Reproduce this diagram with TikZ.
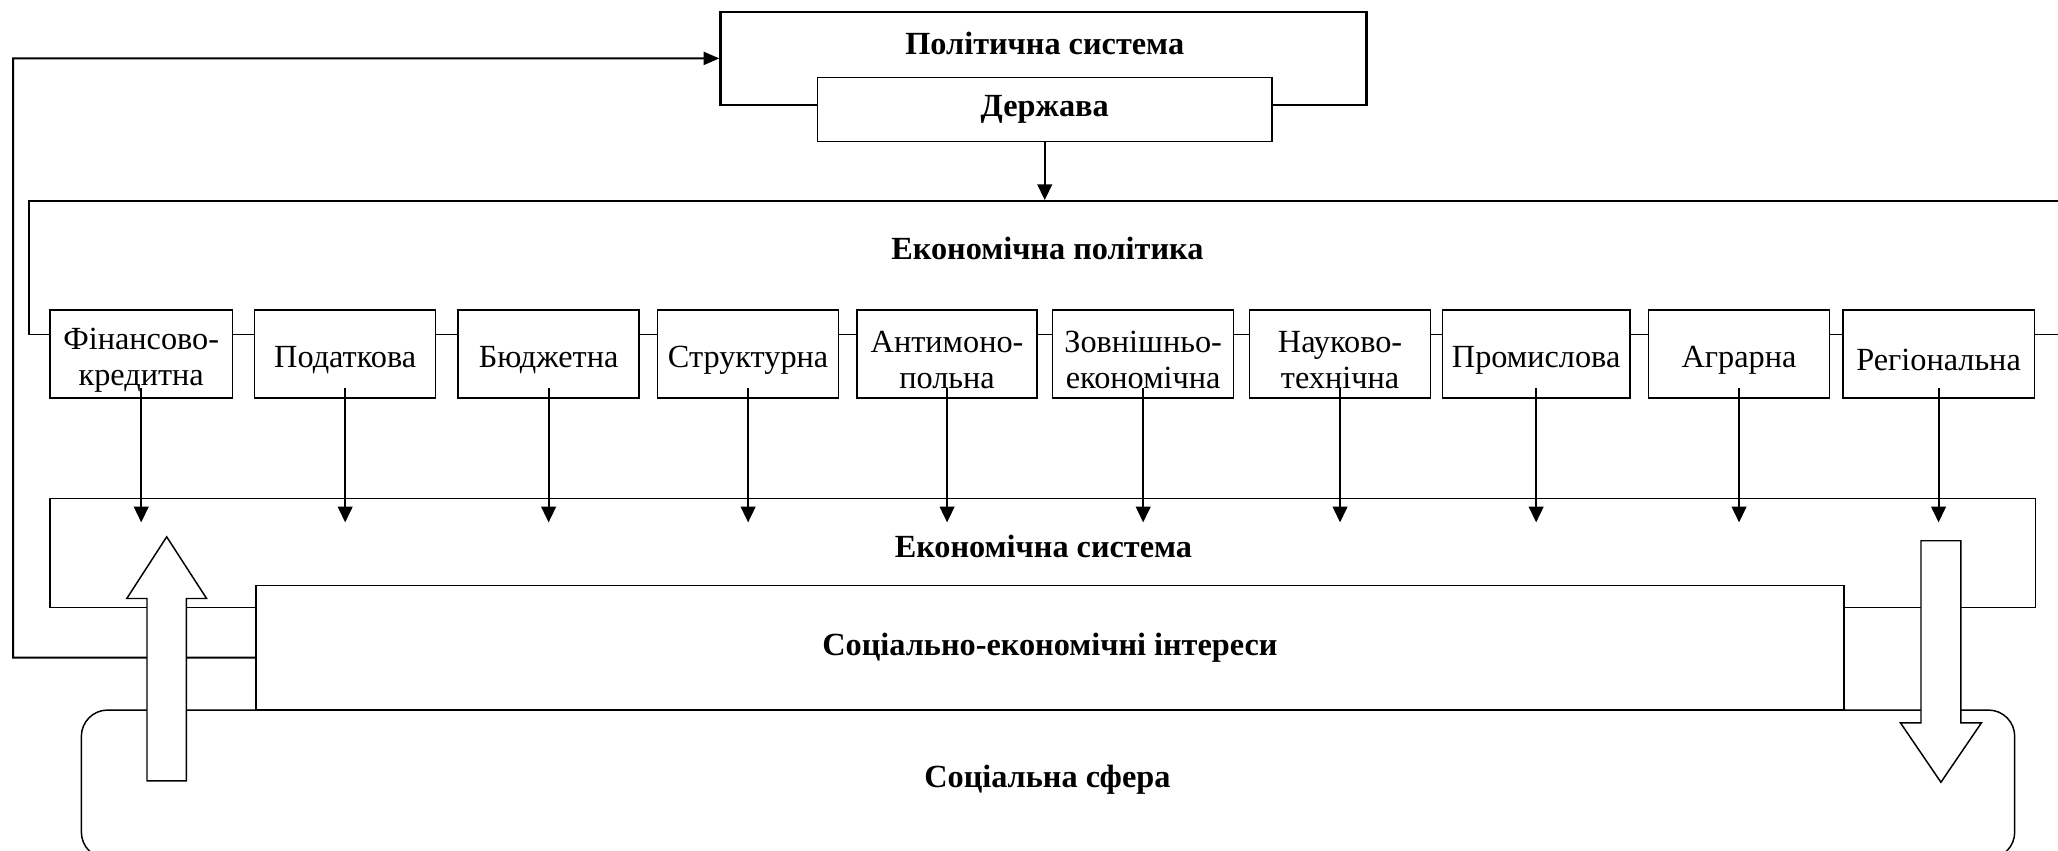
\documentclass[tikz,border=0pt]{standalone}
\usepackage{fontspec}
\setmainfont{Liberation Serif}
\usetikzlibrary{arrows.meta, positioning, calc}

\begin{document}
\begin{tikzpicture}[x=1mm, y=-1mm,
    sysframe/.style={draw, line width=0.8pt, inner sep=0pt},
    boldtext/.style={font=\fontsize{17.5}{20.5}\selectfont\bfseries},
    headline/.style={boldtext, inner sep=0pt},
    policybox/.style={draw, fill=white, line width=0.8pt, minimum height=16.75mm, inner sep=0pt},
    boxtext/.style={inner sep=0pt, align=center, yshift=-1.2mm, font=\fontsize{17.5}{19.4}\selectfont},
    flow/.style={-{Triangle[length=3mm, width=2.8mm]}, line width=1pt},
    feedback/.style={-{Triangle[length=3mm, width=2.5mm]}, line width=1.1pt},
    blockarrow/.style={draw, fill=white, line width=0.8pt, line join=miter}]
  \useasboundingbox (0,0) rectangle (392,162);

  \node[sysframe, line width=1.4pt, minimum width=123mm, minimum height=17.75mm] (polsys) at (198.75,11.125) {};
  \node[headline] (polsystitle) at (199,8.25) {Політична система};
  \node[sysframe, fill=white, boldtext, minimum width=86.5mm, minimum height=12.25mm] (derzh) at (199,20.875) {Держава};

  \node[sysframe, minimum width=394.5mm, minimum height=25.5mm] (polframe) at (202.75,51) {};
  \node[headline] (polftitle) at (199.5,47.25) {Економічна політика};
  \draw[flow] (derzh.south) -- (derzh.south |- polframe.north);

  \foreach \name/\x/\w/\txt in {fin/26.9/34.75/{Фінансово-\\кредитна}, tax/65.75/34.5/{Податкова},
      budget/104.5/34.5/{Бюджетна}, struct/142.5/34.5/{Структурна}, antimon/180.4/34.25/{Антимоно-\\польна},
      foreign/217.75/34.5/{Зовнішньо-\\економічна}, scitech/255.25/34.5/{Науково-\\технічна},
      indust/292.6/35.75/{Промислова}, agrar/331.25/34.5/{Аграрна}, region/369.25/36.5/{Регіональна}}
    \node[policybox, minimum width=\w mm, label={[boxtext]center:\txt}] (\name) at (\x,67.4) {};

  \node[sysframe, minimum width=378.25mm, minimum height=20.75mm] (econsys) at (198.625,105.375) {};
  \node[headline] (econtitle) at (198.75,104) {Економічна система};
  \coordinate (tips) at (0,99.5);
  \foreach \name in {fin, tax, budget, struct, antimon, foreign, scitech, indust, agrar, region}
    \draw[flow] ([yshift=2mm]\name.south) -- (\name.south |- tips);

  \node[sysframe, fill=white, boldtext, minimum width=302.5mm, minimum height=23.75mm] (interests) at (200,123.375) {Соціально-економічні інтереси};
  \node[sysframe, rounded corners=5mm, minimum width=368.25mm, minimum height=28.25mm] (social) at (199.625,149.375) {};
  \node[headline] (socialtitle) at (199.5,148.5) {Соціальна сфера};

  \coordinate (fbleft) at (2.5,125.25);
  \draw[feedback] ([yshift=-1.9mm]interests.west) -- (fbleft) |- (polsys.west);

  \draw[blockarrow] (28,148.75) -- (28,114) -- (24.15,114) -- (31.75,102.25) -- (39.35,114) -- (35.5,114) -- (35.5,148.75) -- cycle;
  \draw[blockarrow] (365.9,103) -- (373.5,103) -- (373.5,137.7) -- (377.4,137.7) -- (369.7,149) -- (362,137.7) -- (365.9,137.7) -- cycle;
\end{tikzpicture}
\end{document}
